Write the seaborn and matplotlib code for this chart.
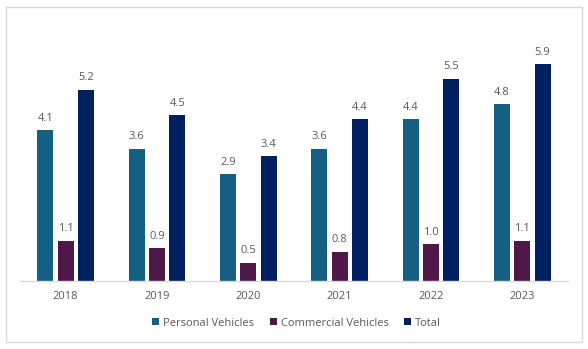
import matplotlib
matplotlib.use("Agg")
import matplotlib.pyplot as plt
import seaborn as sns
import pandas as pd
from matplotlib.patches import Rectangle, Patch

years = ["2018", "2019", "2020", "2021", "2022", "2023"]
personal = [4.1, 3.6, 2.9, 3.6, 4.4, 4.8]
commercial = [1.1, 0.9, 0.5, 0.8, 1.0, 1.1]
total = [5.2, 4.5, 3.4, 4.4, 5.5, 5.9]
series_names = ["Personal Vehicles", "Commercial Vehicles", "Total"]
colors = ["#156082", "#501848", "#002060"]

rows = []
for name, vals in zip(series_names, [personal, commercial, total]):
    for y, v in zip(years, vals):
        rows.append({"Year": y, "Series": name, "Value": v})
df = pd.DataFrame(rows)

sns.set_theme(style="white")
plt.rcParams["font.family"] = ["Open Sans", "DejaVu Sans"]
txt = "#595959"

fig = plt.figure(figsize=(5.88, 3.49), dpi=100)
ax = fig.add_axes([20 / 588, 1 - 281 / 349, 548 / 588, 251 / 349])

sns.barplot(data=df, x="Year", y="Value", hue="Series", hue_order=series_names,
            palette=colors, width=0.667, gap=0.2, ax=ax, legend=False,
            saturation=1, linewidth=0, errorbar=None)

for cont in ax.containers:
    ax.bar_label(cont, fmt="%.1f", padding=4.5, fontsize=8, color=txt)

ax.set_ylim(0, 6.824)
ax.set_xlim(-0.5, 5.5)
ax.set_xlabel("")
ax.set_ylabel("")
ax.set_yticks([])
for s in ["top", "right", "left"]:
    ax.spines[s].set_visible(False)
ax.spines["bottom"].set_color("#D9D9D9")
ax.spines["bottom"].set_linewidth(1)
ax.tick_params(axis="x", length=0, labelsize=8, labelcolor=txt, pad=7)

handles = [Patch(facecolor=c, edgecolor="none") for c in colors]
fig.legend(handles, series_names, loc="center", bbox_to_anchor=(296.5 / 588, 1 - 323 / 349),
           ncol=3, frameon=False, fontsize=8, labelcolor=txt,
           handlelength=0.65, handleheight=0.65, handletextpad=0.35, columnspacing=1.4)

fig.patches.append(Rectangle((6 / 588, 1 - 342 / 349), 576 / 588, 335 / 349,
                             transform=fig.transFigure, fill=False,
                             edgecolor="#D9D9D9", linewidth=1))

fig.savefig("out.png", dpi=100)
